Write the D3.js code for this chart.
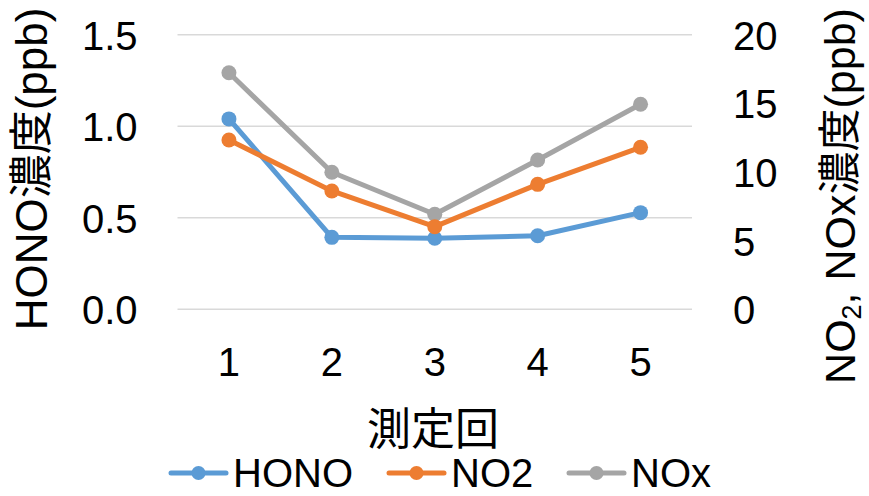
<!DOCTYPE html>
<html>
<head>
<meta charset="utf-8">
<script src="https://cdn.jsdelivr.net/npm/d3@7/dist/d3.min.js"></script>
<style>
  html, body { margin: 0; padding: 0; background: #fff; }
  svg text { font-family: "Liberation Sans", Arial, "Noto Sans CJK JP", sans-serif; fill: #000; }
</style>
</head>
<body>
<svg id="chart" width="869" height="496"></svg>
<script>
// Measurement rounds
const categories = ["1", "2", "3", "4", "5"];
// HONO (left axis, ppb)
const hono = [1.04, 0.393, 0.388, 0.402, 0.528];
// NO2 and NOx (right axis, ppb)
const no2 = [12.33, 8.62, 6.02, 9.10, 11.80];
const nox = [17.23, 9.98, 6.92, 10.87, 14.93];
const leftTicks = [0, 0.5, 1.0, 1.5];
const rightTicks = [0, 5, 10, 15, 20];

const colors = { HONO: "#5B9BD5", NO2: "#ED7D31", NOx: "#A5A5A5" };

const svg = d3.select("#chart");
const plot = { left: 177.5, right: 692, top: 34.7, bottom: 309.3 };

const x = d3.scaleBand().domain(categories).range([plot.left, plot.right]).padding(0);
const cx = c => x(c) + x.bandwidth() / 2;
const yL = d3.scaleLinear().domain([0, 1.5]).range([plot.bottom, plot.top]);
const yR = d3.scaleLinear().domain([0, 20]).range([plot.bottom, plot.top]);

// horizontal gridlines
svg.append("g")
  .selectAll("line").data(leftTicks).join("line")
  .attr("x1", plot.left).attr("x2", plot.right)
  .attr("y1", d => yL(d)).attr("y2", d => yL(d))
  .attr("stroke", "#D9D9D9").attr("stroke-width", 1.5);

// left axis
const axL = svg.append("g").attr("transform", `translate(${plot.left},0)`)
  .call(d3.axisLeft(yL).tickValues(leftTicks).tickFormat(d3.format(".1f")).tickSize(0).tickPadding(40));
axL.select(".domain").remove();
axL.selectAll("text").attr("font-size", 40).attr("font-family", null).attr("dy", "0.36em");

// right axis
const axR = svg.append("g").attr("transform", `translate(${plot.right},0)`)
  .call(d3.axisRight(yR).tickValues(rightTicks).tickFormat(d3.format("d")).tickSize(0).tickPadding(41));
axR.select(".domain").remove();
axR.selectAll("text").attr("font-size", 40).attr("font-family", null).attr("dy", "0.36em");

// category axis
const axX = svg.append("g").attr("transform", `translate(0,${plot.bottom})`)
  .call(d3.axisBottom(x).tickSize(0).tickPadding(67));
axX.select(".domain").remove();
axX.selectAll("text").attr("font-size", 40).attr("font-family", null).attr("dy", "0");

// axis titles
svg.append("text")
  .attr("transform", "translate(47,169) rotate(-90)")
  .attr("text-anchor", "middle").attr("font-size", 44)
  .text("HONO濃度(ppb)");

const rt = svg.append("text")
  .attr("transform", "translate(855,196) rotate(-90)")
  .attr("text-anchor", "middle").attr("font-size", 43);
rt.append("tspan").text("NO");
rt.append("tspan").attr("font-size", 27).attr("dy", 6).text("2");
rt.append("tspan").attr("dy", -6).text(", NOx濃度(ppb)");

svg.append("text")
  .attr("x", 433).attr("y", 445)
  .attr("text-anchor", "middle").attr("font-size", 44)
  .text("測定回");

// series
const series = [
  { name: "HONO", values: hono, y: yL },
  { name: "NOx", values: nox, y: yR },
  { name: "NO2", values: no2, y: yR }
];

const line = (ys) => d3.line().x((d, i) => cx(categories[i])).y(d => ys(d));

series.forEach(s => {
  const g = svg.append("g");
  g.append("path")
    .attr("d", line(s.y)(s.values))
    .attr("fill", "none").attr("stroke", colors[s.name])
    .attr("stroke-width", 5).attr("stroke-linejoin", "round").attr("stroke-linecap", "round");
  g.selectAll("circle").data(s.values).join("circle")
    .attr("cx", (d, i) => cx(categories[i])).attr("cy", d => s.y(d))
    .attr("r", 7.5).attr("fill", colors[s.name]);
});

// legend
const legendItems = [
  { name: "HONO", x0: 171 },
  { name: "NO2", x0: 389 },
  { name: "NOx", x0: 569 }
];
const ly = 473;
const lg = svg.append("g");
legendItems.forEach(it => {
  lg.append("line")
    .attr("x1", it.x0).attr("x2", it.x0 + 55)
    .attr("y1", ly).attr("y2", ly)
    .attr("stroke", colors[it.name]).attr("stroke-width", 5).attr("stroke-linecap", "round");
  lg.append("circle").attr("cx", it.x0 + 27.5).attr("cy", ly).attr("r", 7).attr("fill", colors[it.name]);
  lg.append("text")
    .attr("x", it.x0 + 62).attr("y", ly + 14)
    .attr("font-size", 40)
    .text(it.name);
});
</script>
</body>
</html>
